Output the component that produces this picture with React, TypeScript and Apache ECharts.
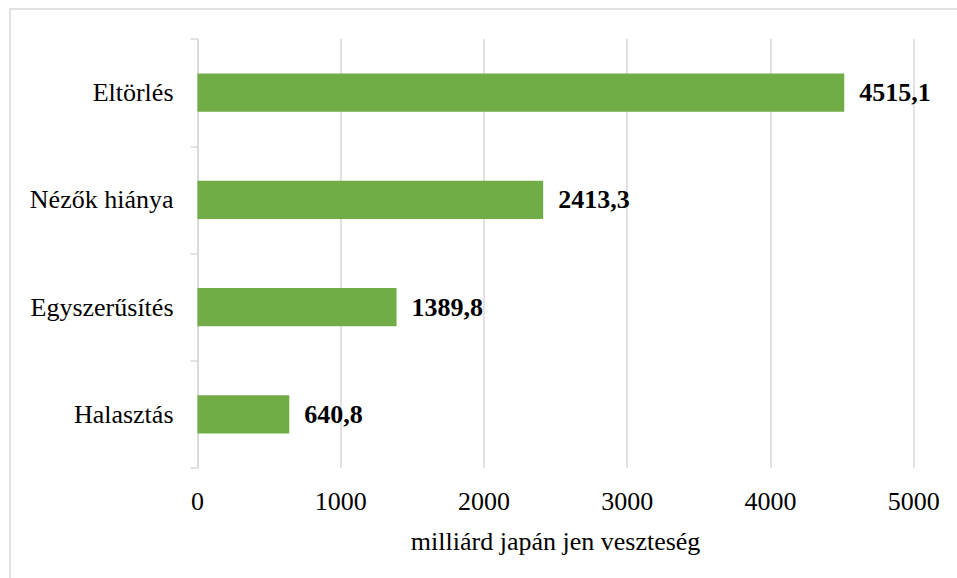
import React, { useEffect, useRef } from "react";
import * as echarts from "echarts";

const categories = ["Halasztás", "Egyszerűsítés", "Nézők hiánya", "Eltörlés"];
const values = [640.8, 1389.8, 2413.3, 4515.1];
const axisName = "milliárd japán jen veszteség";

const FONT = "'Liberation Serif', 'Times New Roman', serif";

export default function App() {
  const ref = useRef<HTMLDivElement>(null);
  useEffect(() => {
    if (!ref.current) return;
    const chart = echarts.init(ref.current, null, { renderer: "svg" });
    chart.setOption({
      animation: false,
      backgroundColor: "#ffffff",
      graphic: [
        {
          type: "rect",
          shape: { x: 10, y: 9, width: 960, height: 590 },
          style: { fill: "none", stroke: "#d9d9d9", lineWidth: 1.5 },
          silent: true,
        },
      ],
      grid: { left: 197.5, right: 43.3, top: 39, bottom: 110, containLabel: false },
      xAxis: {
        type: "value",
        min: 0,
        max: 5000,
        interval: 1000,
        name: axisName,
        nameLocation: "middle",
        nameGap: 60,
        nameTextStyle: { fontFamily: FONT, fontSize: 26, color: "#000" },
        axisLine: { show: false },
        axisTick: { show: false },
        axisLabel: {
          fontFamily: FONT,
          fontSize: 26,
          color: "#000",
          margin: 20,
          formatter: (v: number) => String(v),
        },
        splitLine: { show: true, lineStyle: { color: "#d9d9d9", width: 1.5 } },
      },
      yAxis: {
        type: "category",
        data: categories,
        axisLine: { show: true, lineStyle: { color: "#d9d9d9", width: 1.5 } },
        axisTick: { show: true, length: 7, lineStyle: { color: "#d9d9d9", width: 1.5 } },
        axisLabel: { fontFamily: FONT, fontSize: 26, color: "#000", margin: 24 },
      },
      series: [
        {
          type: "bar",
          data: values,
          barWidth: "35.5%",
          itemStyle: { color: "#70ad47" },
          label: {
            show: true,
            position: "right",
            distance: 15,
            fontFamily: FONT,
            fontSize: 26,
            fontWeight: "bold",
            color: "#000",
            formatter: (p: any) => String(p.value).replace(".", ","),
          },
        },
      ],
    });
    return () => chart.dispose();
  }, []);
  return (
    <div
      ref={ref}
      style={{ position: "fixed", left: 0, top: 0, width: 957, height: 578 }}
    />
  );
}
